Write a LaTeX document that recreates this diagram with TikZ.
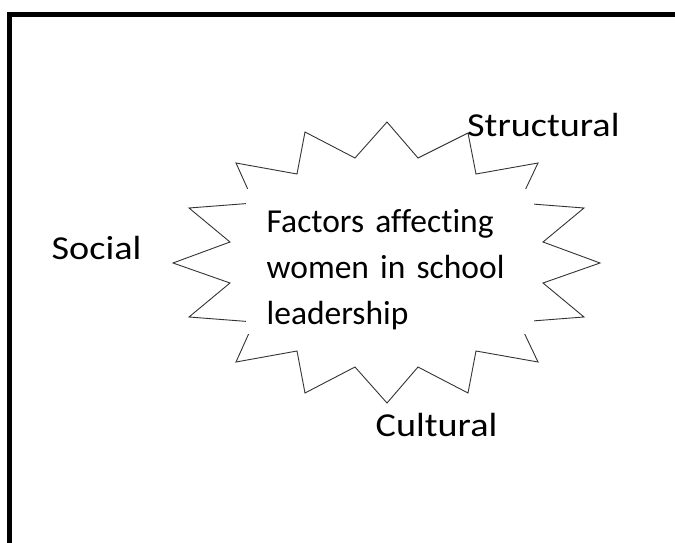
\documentclass[tikz,border=0pt]{standalone}
\usepackage{graphicx}
\usepackage{fontspec}
\setmainfont{Carlito}[Ligatures={NoCommon,NoRare}]
\tikzset{burst/.style={draw=black!80, line width=0.9pt, line join=miter}}
\tikzstyle{factor} = [inner sep=0pt, font=\fontsize{33.5}{46}\selectfont]
\newcommand{\wide}[1]{\scalebox{1.14}[1]{#1}}

\begin{document}
\begin{tikzpicture}[x=1pt, y=-1pt]
  \useasboundingbox (0,0) rectangle (675,543);
  \clip (0,0) rectangle (675,543);
  % frame, runs off the right and bottom edges
  \draw[line width=5pt] (9,560) -- (9,15) -- (690,15);
  % sixteen point burst
  \draw[burst] (387,122) -- (418,158) -- (468,133) -- (476,174) -- (538,163) -- (519,203)
    -- (584,208) -- (543,242) -- (600,263) -- (543,283) -- (584,317) -- (519,322)
    -- (538,362) -- (476,351) -- (468,393) -- (418,367) -- (387,403) -- (355,367)
    -- (305,393) -- (297,351) -- (236,362) -- (254,322) -- (189,317) -- (230,283)
    -- (173,263) -- (230,242) -- (189,208) -- (254,203) -- (236,163) -- (297,174)
    -- (305,132) -- (355,158) -- cycle;
  \node[factor, fill=white, inner xsep=20.7pt, text width=246.6pt, minimum height=145pt, align=left] (centre) at (390,261.5)
    {\rule{0pt}{39.6pt}Factors affecting\\ women in school\\ leadership};
  % the three factor labels round the burst
  \node[factor, anchor=base west] (social) at (51.5,259.3) {\wide{Social}};
  \node[factor, anchor=base west] (structural) at (467,136) {\wide{Structural}};
  \node[factor, anchor=base west] (cultural) at (375.5,436.7) {\wide{Cultural}};
\end{tikzpicture}
\end{document}
